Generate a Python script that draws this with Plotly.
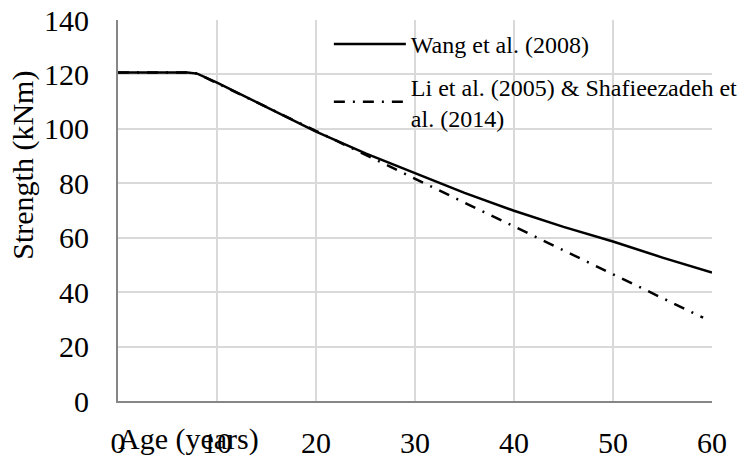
import plotly.graph_objects as go

# Data
wang_age = [0, 5, 7, 8, 10, 15, 20, 25, 30, 35, 40, 45, 50, 55, 60]
wang_strength = [120.7, 120.7, 120.7, 120.3, 117.0, 108.0, 99.0, 91.0, 83.7, 76.5, 69.9, 64.0, 58.6, 52.7, 47.2]

li_age = [0, 7, 8, 20, 30, 40, 50, 59.1]
li_strength = [120.7, 120.7, 120.3, 99.2, 81.5, 64.0, 46.5, 30.6]

x_ticks = [0, 10, 20, 30, 40, 50, 60]
y_ticks = [0, 20, 40, 60, 80, 100, 120, 140]

FONT = "Liberation Serif"

fig = go.Figure()
fig.add_trace(go.Scatter(
    x=li_age, y=li_strength, mode="lines",
    name="Li et al. (2005) & Shafieezadeh et<br>al. (2014)",
    line=dict(color="black", width=2.5, dash="11px,8px,2px,8px"),
    legendrank=2, legendgroup="b",
))
fig.add_trace(go.Scatter(
    x=wang_age, y=wang_strength, mode="lines",
    name="Wang et al. (2008)",
    line=dict(color="black", width=2.5),
    legendrank=1, legendgroup="a",
))

fig.update_layout(
    width=748, height=458,
    margin=dict(l=118, r=36, t=20, b=57, autoexpand=False),
    paper_bgcolor="white", plot_bgcolor="white",
    font=dict(family=FONT, size=30, color="black"),
    showlegend=True,
    legend=dict(
        x=0.355, y=0.995, xanchor="left", yanchor="top",
        bgcolor="rgba(0,0,0,0)", font=dict(family=FONT, size=24),
        itemwidth=72, tracegroupgap=8, traceorder="grouped",
    ),
    xaxis=dict(
        range=[0, 60], tickvals=x_ticks, ticktext=[str(v) for v in x_ticks],
        showgrid=True, gridcolor="#d9d9d9", gridwidth=1.5,
        showline=True, linecolor="#868686", linewidth=2,
        ticks="outside", ticklen=14, tickcolor="rgba(0,0,0,0)",
        zeroline=False, tickfont=dict(size=30), automargin=False,
    ),
    yaxis=dict(
        range=[0, 140], tickvals=y_ticks, ticktext=[str(v) for v in y_ticks],
        showgrid=True, gridcolor="#d9d9d9", gridwidth=1.5,
        showline=True, linecolor="#868686", linewidth=2,
        ticks="outside", ticklen=21, tickcolor="rgba(0,0,0,0)",
        zeroline=False, tickfont=dict(size=30), automargin=False,
    ),
    annotations=[
        dict(text="Age (years)", xref="paper", yref="paper", x=0.1195, y=-0.1,
             showarrow=False, xanchor="center", yanchor="middle", font=dict(size=30)),
        dict(text="Strength (kNm)", xref="paper", yref="paper", x=-0.16, y=0.62,
             showarrow=False, xanchor="center", yanchor="middle", textangle=-90,
             font=dict(size=30)),
    ],
)

fig.write_html("out.html")
